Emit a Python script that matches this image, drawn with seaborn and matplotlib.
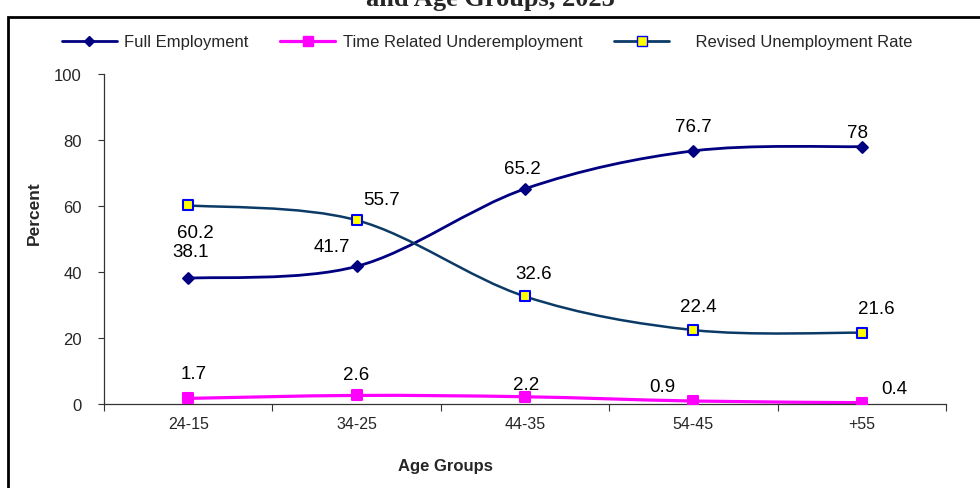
import numpy as np
import pandas as pd
import matplotlib
matplotlib.use("Agg")
import matplotlib.pyplot as plt
import seaborn as sns
from matplotlib.path import Path
from matplotlib.patches import PathPatch, Rectangle
from matplotlib.lines import Line2D

# ---- data ----
age_groups = ["24-15", "34-25", "44-35", "54-45", "+55"]
full_employment = [38.1, 41.7, 65.2, 76.7, 78]
time_underemployment = [1.7, 2.6, 2.2, 0.9, 0.4]
revised_unemployment = [60.2, 55.7, 32.6, 22.4, 21.6]
series_names = ["Full Employment", "Time Related Underemployment", "Revised Unemployment Rate"]

# label offsets in pixels (dx, dy)
fe_off = [(2, 27), (-25, 20), (-3, 20), (0, 24), (-4, 14)]
tu_off = [(5, 25), (0, 21), (1, 12), (-31, 15), (33, 14)]
ru_off = [(7, -27), (25, 21), (9, 23), (5, 24), (15, 24)]

sns.set_theme(style="white")
plt.rcParams["font.family"] = ["Liberation Sans", "DejaVu Sans"]

fig = plt.figure(figsize=(9.8, 4.89), dpi=100)
ax = fig.add_axes([104/980, 1-405/489, (946-104)/980, (405-75)/489])

x = np.arange(len(age_groups))
df = pd.DataFrame({"x": x, "fe": full_employment, "tu": time_underemployment, "ru": revised_unemployment})

def smooth_path(xs, ys):
    pts = np.column_stack([xs, ys]).astype(float)
    n = len(pts)
    verts = [pts[0]]
    codes = [Path.MOVETO]
    for i in range(n - 1):
        p0 = pts[i - 1] if i > 0 else pts[i]
        p1 = pts[i]
        p2 = pts[i + 1]
        p3 = pts[i + 2] if i + 2 < n else pts[i + 1]
        c1 = p1 + (p2 - p0) / 6.0
        c2 = p2 - (p3 - p1) / 6.0
        verts += [c1, c2, p2]
        codes += [Path.CURVE4] * 3
    return Path(verts, codes)

styles = [
    ("fe", "#000080", 2.0, "D", "#000080", "#000080", 5.5, fe_off),
    ("tu", "#FF00FF", 2.3, "s", "#FF00FF", "#FF00FF", 7, tu_off),
    ("ru", "#0B3A66", 1.8, "s", "#FFFF00", "#0000FF", 6.5, ru_off),
]

for col, lc, lw, mk, mfc, mec, ms, offs in styles:
    ax.add_patch(PathPatch(smooth_path(df["x"], df[col]), facecolor="none",
                           edgecolor=lc, lw=lw, zorder=2))
    sns.scatterplot(data=df, x="x", y=col, marker=mk, s=ms**2, color=mfc,
                    edgecolor=mec, linewidth=1.5, ax=ax, zorder=3, legend=False)
    for xi, yi, (dx, dy) in zip(df["x"], df[col], offs):
        ax.annotate(f"{yi:g}", (xi, yi), xytext=(dx, dy), textcoords="offset pixels",
                    ha="center", va="center", fontsize=13.5, color="black", zorder=4)

ax.set_xlim(-0.5, len(age_groups) - 0.5)
ax.set_ylim(0, 100)
ax.set_yticks([0, 20, 40, 60, 80, 100])
ax.set_xticks(np.arange(-0.5, len(age_groups), 1.0))
ax.set_xticklabels([])
ax.set_xticks(x, minor=True)
ax.set_xticklabels(age_groups, minor=True)
ax.tick_params(axis="x", which="major", length=5, width=0.8, color="#333333", direction="out", bottom=True)
ax.tick_params(axis="x", which="minor", length=0, labelsize=11.5, pad=9)
ax.tick_params(axis="y", length=4, width=0.8, color="#333333", direction="out", left=True,
               labelsize=12, pad=12)
for s in ["top", "right"]:
    ax.spines[s].set_visible(False)
for s in ["left", "bottom"]:
    ax.spines[s].set_color("#333333")
    ax.spines[s].set_linewidth(0.9)
ax.set_xlabel("")
ax.set_ylabel("")
ax.grid(False)

fig.text(34/980, 1-213/489, "Percent", rotation=90, ha="center", va="center",
         fontsize=12.5, fontweight="bold")
fig.text(445/980, 1-467/489, "Age Groups", ha="center", va="center",
         fontsize=12, fontweight="bold")

fig.text(0.5, 1-6/489, "and Age Groups, 2023", ha="center", va="baseline",
         fontsize=19, fontweight="bold", family=["Liberation Serif", "DejaVu Serif"])

fig.patches.append(Rectangle((8/980, -0.05), 1.1, 1-18/489+0.05, transform=fig.transFigure,
                             fill=False, edgecolor="black", lw=2.0, zorder=10))

handles = [
    Line2D([], [], color="#000080", lw=2, marker="D", markersize=5, markerfacecolor="#000080", markeredgecolor="#000080"),
    Line2D([], [], color="#FF00FF", lw=2.3, marker="s", markersize=7, markerfacecolor="#FF00FF", markeredgecolor="#FF00FF"),
    Line2D([], [], color="#0B3A66", lw=2, marker="s", markersize=6.5, markerfacecolor="#FFFF00", markeredgecolor="#0000FF"),
]
labels = [series_names[0], series_names[1], "    " + series_names[2]]
fig.legend(handles, labels, loc="center", bbox_to_anchor=(487/980, 1-43/489), ncol=3,
           frameon=False, fontsize=12, handlelength=3.3, columnspacing=1.9, handletextpad=0.45)

fig.savefig("out.png", dpi=100)
